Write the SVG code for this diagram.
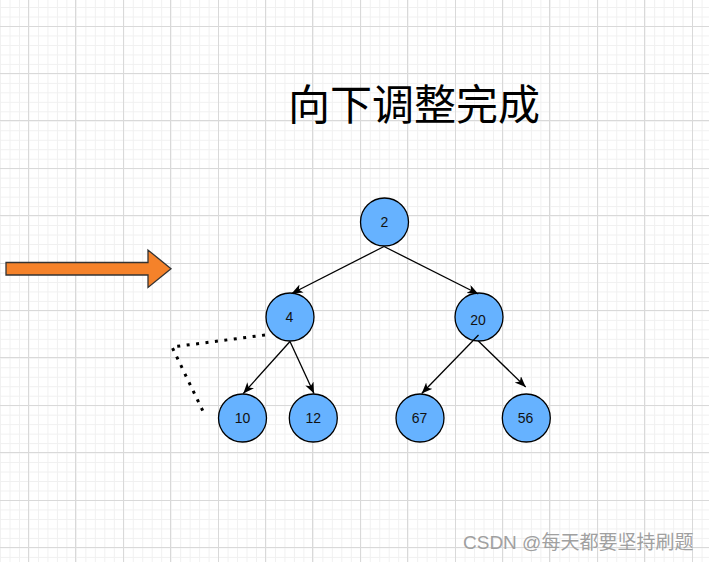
<svg xmlns="http://www.w3.org/2000/svg" width="709" height="562" viewBox="0 0 709 562">
<style>
.node{fill:#66b2ff;stroke:#000;stroke-width:1.3}
.lbl{font-family:"Liberation Sans",Arial,sans-serif;font-size:14px;fill:#111;text-anchor:middle}
.edge{fill:none;stroke:#000;stroke-width:1.3;marker-end:url(#arr)}
.major{fill:none;stroke:#d9d9d9;stroke-width:1}
</style>
<defs>
<pattern id="minor" patternUnits="userSpaceOnUse" x="28.5" y="26" width="9.48" height="9.48">
<path d="M0.5 0V9.48M0 0.5H9.48" fill="none" stroke="#f0f0f0" stroke-width="1"/>
</pattern>
<marker id="arr" markerUnits="userSpaceOnUse" markerWidth="12" markerHeight="10" refX="11" refY="4.5" orient="auto">
<path d="M0 0L11 4.5L0 9L3 4.5Z" fill="#000"/>
</marker>
</defs>
<rect width="709" height="562" fill="#fff"/>
<rect width="709" height="562" fill="url(#minor)"/>
<path class="major" d="M28.5 0V562M75.5 0V562M123.5 0V562M170.5 0V562M218.5 0V562M265.5 0V562M312.5 0V562M360.5 0V562M407.5 0V562M455.5 0V562M502.5 0V562M549.5 0V562M597.5 0V562M644.5 0V562M692.5 0V562M0 26.5H709M0 73.5H709M0 120.5H709M0 168.5H709M0 215.5H709M0 263.5H709M0 310.5H709M0 357.5H709M0 405.5H709M0 452.5H709M0 500.5H709M0 547.5H709"/>
<text x="288" y="120" font-family="'Noto Sans CJK SC',sans-serif" font-size="42" fill="#000">向下调整完成</text>
<g id="bigArrow">
<path d="M6 262.5H148V250L171 268.8L148 287.5V275H6Z" fill="#f5822a" stroke="#333" stroke-width="1.3"/>
</g>
<g id="n2"><circle class="node" cx="384.5" cy="222" r="24"/><text class="lbl" x="384.5" y="227">2</text></g>
<g id="n4"><circle class="node" cx="290" cy="317" r="24"/><text class="lbl" x="289.5" y="322">4</text></g>
<g id="n20"><circle class="node" cx="479" cy="317" r="24"/><text class="lbl" x="478" y="325">20</text></g>
<g id="n10"><circle class="node" cx="242.5" cy="418" r="24"/><text class="lbl" x="242.5" y="423">10</text></g>
<g id="n12"><circle class="node" cx="313.3" cy="418" r="24"/><text class="lbl" x="313.3" y="423">12</text></g>
<g id="n67"><circle class="node" cx="420" cy="418" r="24"/><text class="lbl" x="419.5" y="423">67</text></g>
<g id="n56"><circle class="node" cx="526.3" cy="418" r="24"/><text class="lbl" x="525.5" y="423">56</text></g>
<g id="connectors">
<path class="edge" d="M384 246.5L291.7 293.5"/>
<path class="edge" d="M384 246.5L478.3 294"/>
<path class="edge" d="M290 341.5L243.3 393.5"/>
<path class="edge" d="M290 341.5L314 393.5"/>
<path class="edge" d="M478.5 335L421.7 393.5"/>
<path class="edge" d="M478.3 341L525.7 387"/>
<path d="M265 335L172 347L205.5 416.5" fill="none" stroke="#000" stroke-width="3" stroke-dasharray="3 6.5"/>
</g>
<text x="463" y="549" font-family="'Liberation Sans','Noto Sans CJK SC',sans-serif" font-size="19" fill="#a0a0a0">CSDN @每天都要坚持刷题</text>
</svg>
